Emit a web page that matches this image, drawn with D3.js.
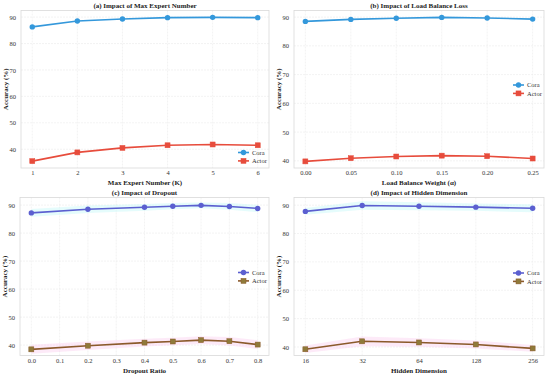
<!DOCTYPE html>
<html>
<head>
<meta charset="utf-8">
<script src="https://cdn.jsdelivr.net/npm/d3@7"></script>
<style>
  body { margin: 0; background: #fff; }
  svg { font-family: "Liberation Serif", "DejaVu Serif", serif; }
</style>
</head>
<body>
<svg id="chart" width="550" height="374"></svg>
<script>
// values
var expertK = [1, 2, 3, 4, 5, 6],
  expertCora = [86.3, 88.5, 89.3, 89.8, 89.9, 89.8],
  expertActor = [35.5, 38.8, 40.5, 41.5, 41.8, 41.5];

var lbWeight = [0.00, 0.05, 0.10, 0.15, 0.20, 0.25],
  lbCora = [88.5, 89.2, 89.6, 89.9, 89.7, 89.3],
  lbActor = [39.8, 40.9, 41.5, 41.8, 41.6, 40.8];

var dropRatio = [0.0, 0.2, 0.4, 0.5, 0.6, 0.7, 0.8],
  dropCora = [87.2, 88.5, 89.2, 89.6, 89.9, 89.5, 88.8],
  dropCoraStd = [1.4, 1.3, 1.2, 1.1, 1.0, 1.2, 1.3],
  dropActor = [38.5, 39.8, 40.9, 41.3, 41.8, 41.4, 40.2],
  dropActorStd = [1.6, 1.5, 1.4, 1.3, 1.4, 1.5, 1.6];

var hiddenDim = [16, 32, 64, 128, 256],
  hiddenCora = [87.8, 89.9, 89.6, 89.3, 88.9],
  hiddenCoraStd = [1.2, 1.5, 1.4, 1.3, 1.4],
  hiddenActor = [39.2, 42.0, 41.6, 40.9, 39.5],
  hiddenActorStd = [1.3, 1.7, 1.5, 1.4, 1.2];

var yTicks = [40, 50, 60, 70, 80, 90];

var svg = d3.select('#chart');

var panels = [
  {
    title: '(a) Impact of Max Expert Number', xlabel: 'Max Expert Number (K)',
    box: [21, 10.5, 269, 168], x: expertK, xDomain: [0.75, 6.25], yDomain: [32.9, 92.5],
    xTicks: expertK, fmt: d3.format('d'), scale: 'linear',
    cora: expertCora, actor: expertActor,
    cCol: '#3498db', aCol: '#e74c3c', aFill: '#e74c3c', legendY: 152.5
  },
  {
    title: '(b) Impact of Load Balance Loss', xlabel: 'Load Balance Weight (\u03b1)',
    box: [294, 10.5, 544, 168], x: lbWeight, xDomain: [-0.0125, 0.2625], yDomain: [37.5, 92.3],
    xTicks: lbWeight, fmt: d3.format('.2f'), scale: 'linear',
    cora: lbCora, actor: lbActor,
    cCol: '#3498db', aCol: '#e74c3c', aFill: '#e74c3c', legendY: 85
  },
  {
    title: '(c) Impact of Dropout', xlabel: 'Dropout Ratio',
    box: [20, 197.5, 269, 355.5], x: dropRatio, xDomain: [-0.04, 0.84], yDomain: [36.3, 92.7],
    xTicks: d3.range(0, 9).map(function(i) { return i / 10; }), fmt: d3.format('.1f'), scale: 'linear',
    cora: dropCora, actor: dropActor, coraStd: dropCoraStd, actorStd: dropActorStd,
    cCol: '#5b5fd0', aCol: '#8b5a2b', aFill: '#8f7a3a', legendY: 272.5
  },
  {
    title: '(d) Impact of Hidden Dimension', xlabel: 'Hidden Dimension',
    box: [294, 197.5, 544, 355.5], x: hiddenDim, xDomain: [16 / Math.pow(2, 0.2), 256 * Math.pow(2, 0.2)], yDomain: [37.0, 92.7],
    xTicks: hiddenDim, fmt: d3.format('d'), scale: 'log',
    cora: hiddenCora, actor: hiddenActor, coraStd: hiddenCoraStd, actorStd: hiddenActorStd,
    cCol: '#5b5fd0', aCol: '#8b5a2b', aFill: '#8f7a3a', legendY: 273
  }
];

panels.forEach(drawPanel);

function drawPanel(p) {
  var x0 = p.box[0], y0 = p.box[1], x1 = p.box[2], y1 = p.box[3];
  var x = (p.scale === 'log' ? d3.scaleLog().base(2) : d3.scaleLinear())
    .domain(p.xDomain).range([x0, x1]);
  var y = d3.scaleLinear().domain(p.yDomain).range([y1, y0]);

  var g = svg.append('g');

  // grid
  g.append('g')
    .selectAll('line')
    .data(p.xTicks)
    .enter()
    .append('line')
    .attr('x1', function(d) { return x(d); })
    .attr('x2', function(d) { return x(d); })
    .attr('y1', y0).attr('y2', y1)
    .style('stroke', '#ebebeb')
    .style('stroke-width', 0.6)
    .style('stroke-dasharray', '2,1');
  g.append('g')
    .selectAll('line')
    .data(yTicks)
    .enter()
    .append('line')
    .attr('y1', function(d) { return y(d); })
    .attr('y2', function(d) { return y(d); })
    .attr('x1', x0).attr('x2', x1)
    .style('stroke', '#ebebeb')
    .style('stroke-width', 0.6)
    .style('stroke-dasharray', '2,1');

  // std bands
  var idx = d3.range(p.x.length);
  if (p.coraStd) {
    var band = function(vals, std) {
      return d3.area()
        .x(function(i) { return x(p.x[i]); })
        .y0(function(i) { return y(vals[i] - std[i]); })
        .y1(function(i) { return y(vals[i] + std[i]); })(idx);
    };
    g.append('path').attr('d', band(p.cora, p.coraStd))
      .style('fill', '#ccfafa').style('opacity', 0.5);
    g.append('path').attr('d', band(p.actor, p.actorStd))
      .style('fill', '#fbd0f0').style('opacity', 0.45);
  }

  // frame
  g.append('rect')
    .attr('x', x0).attr('y', y0)
    .attr('width', x1 - x0).attr('height', y1 - y0)
    .style('fill', 'none')
    .style('stroke', '#d9d9d9')
    .style('stroke-width', 0.8);

  // axes
  var xAxis = d3.axisBottom(x).tickValues(p.xTicks).tickFormat(p.fmt).tickSize(0).tickPadding(2.5);
  var yAxis = d3.axisLeft(y).tickValues(yTicks).tickFormat(d3.format('d')).tickSize(0).tickPadding(5);
  var ax = g.append('g').attr('transform', 'translate(0,' + y1 + ')').call(xAxis);
  var ay = g.append('g').attr('transform', 'translate(' + x0 + ',0)').call(yAxis);
  [ax, ay].forEach(function(a) {
    a.select('.domain').remove();
    a.selectAll('text')
      .style('font-family', '"Liberation Serif", serif')
      .style('font-size', '6.5px')
      .style('fill', '#333');
  });

  // lines and markers
  var line = function(vals) {
    return d3.line()
      .x(function(i) { return x(p.x[i]); })
      .y(function(i) { return y(vals[i]); })(idx);
  };
  g.append('path').attr('d', line(p.cora))
    .style('fill', 'none').style('stroke', p.cCol).style('stroke-width', 1.6);
  g.append('path').attr('d', line(p.actor))
    .style('fill', 'none').style('stroke', p.aCol).style('stroke-width', 1.6);

  g.append('g')
    .selectAll('circle')
    .data(idx)
    .enter()
    .append('circle')
    .attr('cx', function(i) { return x(p.x[i]); })
    .attr('cy', function(i) { return y(p.cora[i]); })
    .attr('r', 2.7)
    .style('fill', p.cCol);
  g.append('g')
    .selectAll('rect')
    .data(idx)
    .enter()
    .append('rect')
    .attr('x', function(i) { return x(p.x[i]) - 2.5; })
    .attr('y', function(i) { return y(p.actor[i]) - 2.5; })
    .attr('width', 5).attr('height', 5)
    .style('fill', p.aFill)
    .style('stroke', p.aCol)
    .style('stroke-width', 0.5);

  // legend
  var lx = x1 - 31, ly = p.legendY;
  var leg = g.append('g');
  [[p.cCol, p.cCol, 'Cora', 'c'], [p.aCol, p.aFill, 'Actor', 's']].forEach(function(s, k) {
    var yy = ly + k * 8.4;
    leg.append('line')
      .attr('x1', lx).attr('x2', lx + 11)
      .attr('y1', yy).attr('y2', yy)
      .style('stroke', s[0]).style('stroke-width', 1.6);
    if (s[3] === 'c') {
      leg.append('circle').attr('cx', lx + 5.5).attr('cy', yy).attr('r', 2.7).style('fill', s[1]);
    } else {
      leg.append('rect').attr('x', lx + 3).attr('y', yy - 2.5)
        .attr('width', 5).attr('height', 5).style('fill', s[1])
        .style('stroke', s[0]).style('stroke-width', 0.5);
    }
    leg.append('text')
      .attr('x', lx + 14).attr('y', yy + 2.3)
      .style('font-size', '6.5px').style('fill', '#333')
      .text(s[2]);
  });

  // titles and labels
  g.append('text')
    .attr('x', (x0 + x1) / 2).attr('y', y0 - 3)
    .attr('text-anchor', 'middle')
    .style('font-size', '7px').style('font-weight', 'bold').style('fill', '#222')
    .text(p.title);
  g.append('text')
    .attr('x', (x0 + x1) / 2).attr('y', y1 + 17)
    .attr('text-anchor', 'middle')
    .style('font-size', '7px').style('font-weight', 'bold').style('fill', '#222')
    .text(p.xlabel);
  g.append('text')
    .attr('transform', 'translate(' + (x0 - 13) + ',' + ((y0 + y1) / 2) + ') rotate(-90)')
    .attr('text-anchor', 'middle')
    .style('font-size', '7px').style('font-weight', 'bold').style('fill', '#222')
    .text('Accuracy (%)');
}
</script>
</body>
</html>
